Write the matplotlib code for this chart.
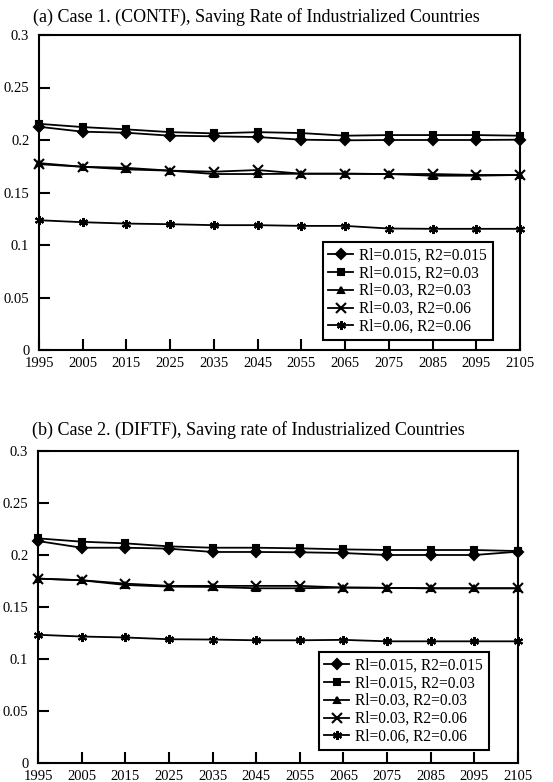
import matplotlib
matplotlib.use("Agg")
import matplotlib.pyplot as plt

years = [1995, 2005, 2015, 2025, 2035, 2045, 2055, 2065, 2075, 2085, 2095, 2105]
labels = ["Rl=0.015, R2=0.015", "Rl=0.015, R2=0.03", "Rl=0.03, R2=0.03",
          "Rl=0.03, R2=0.06", "Rl=0.06, R2=0.06"]

# Panel (a) CONTF
a_r015_015 = [0.2126, 0.2079, 0.2069, 0.2041, 0.2035, 0.2028, 0.2003, 0.1997, 0.2000, 0.2000, 0.2000, 0.2003]
a_r015_03 = [0.2154, 0.2123, 0.2101, 0.2075, 0.2063, 0.2075, 0.2066, 0.2041, 0.2047, 0.2047, 0.2047, 0.2041]
a_r03_03 = [0.1780, 0.1745, 0.1720, 0.1708, 0.1676, 0.1676, 0.1679, 0.1679, 0.1676, 0.1660, 0.1660, 0.1667]
a_r03_06 = [0.1770, 0.1745, 0.1735, 0.1708, 0.1698, 0.1714, 0.1679, 0.1679, 0.1676, 0.1676, 0.1667, 0.1667]
a_r06_06 = [0.1236, 0.1217, 0.1204, 0.1198, 0.1189, 0.1189, 0.1182, 0.1182, 0.1157, 0.1154, 0.1154, 0.1154]

# Panel (b) DIFTF
b_r015_015 = [0.2134, 0.2070, 0.2070, 0.2061, 0.2029, 0.2029, 0.2026, 0.2019, 0.2000, 0.2000, 0.2000, 0.2032]
b_r015_03 = [0.2160, 0.2128, 0.2112, 0.2083, 0.2070, 0.2070, 0.2064, 0.2054, 0.2048, 0.2048, 0.2048, 0.2038]
b_r03_03 = [0.1773, 0.1757, 0.1712, 0.1696, 0.1693, 0.1680, 0.1680, 0.1687, 0.1684, 0.1680, 0.1680, 0.1680]
b_r03_06 = [0.1773, 0.1757, 0.1725, 0.1703, 0.1703, 0.1703, 0.1703, 0.1687, 0.1684, 0.1680, 0.1680, 0.1680]
b_r06_06 = [0.1233, 0.1216, 0.1207, 0.1190, 0.1187, 0.1180, 0.1180, 0.1184, 0.1170, 0.1170, 0.1170, 0.1170]

yticks = [0, 0.05, 0.1, 0.15, 0.2, 0.25, 0.3]
yticklabels = ["0", "0.05", "0.1", "0.15", "0.2", "0.25", "0.3"]
titles = ["(a) Case 1. (CONTF), Saving Rate of Industrialized Countries",
          "(b) Case 2. (DIFTF), Saving rate of Industrialized Countries"]

markers = ["D", "s", "^", "x", (6, 2, 0)]
msizes = [5.5, 5, 5, 6.5, 6.5]

plt.rcParams['font.family'] = ['Liberation Serif', 'DejaVu Serif']

fig = plt.figure(figsize=(5.53, 7.82), dpi=100)
W, H = 553, 782

def make_axes(l, r, t, b):
    return fig.add_axes([l / W, 1 - b / H, (r - l) / W, (b - t) / H])

axa = make_axes(39, 520, 35, 350)
axb = make_axes(38, 518, 451, 763)

panels = [
    (axa, [a_r015_015, a_r015_03, a_r03_03, a_r03_06, a_r06_06], (0.590, 0.343), 17, 33),
    (axb, [b_r015_015, b_r015_03, b_r03_03, b_r03_06, b_r06_06], (0.585, 0.356), 430, 32),
]

for i, (ax, series, lpos, ty, tx) in enumerate(panels):
    for s, lab, m, ms in zip(series, labels, markers, msizes):
        ax.plot(years, s, color='black', lw=1.3, marker=m, ms=ms,
                mew=1.5, mfc='black', mec='black', label=lab, clip_on=False)
    ax.set_xlim(1995, 2105)
    ax.set_ylim(0, 0.3)
    ax.set_xticks(years)
    ax.set_xticklabels([str(y) for y in years])
    ax.set_yticks(yticks)
    ax.set_yticklabels(yticklabels)
    ax.tick_params(axis='both', direction='in', length=8, width=1.5,
                   labelsize=10.5, color='black')
    ax.tick_params(axis='x', pad=5)
    ax.tick_params(axis='y', pad=7)
    for sp in ax.spines.values():
        sp.set_linewidth(1.5)
        sp.set_color('black')
    leg = ax.legend(loc='upper left', bbox_to_anchor=lpos, borderaxespad=0,
                    fontsize=11.2, frameon=True, fancybox=False, edgecolor='black',
                    framealpha=1, handlelength=1.6, handletextpad=0.4,
                    labelspacing=0.12, borderpad=0.35)
    leg.get_frame().set_linewidth(1.5)
    fig.text(tx / W, 1 - ty / H, titles[i], fontsize=13, ha='left', va='center')

fig.savefig("out.png", dpi=100)
